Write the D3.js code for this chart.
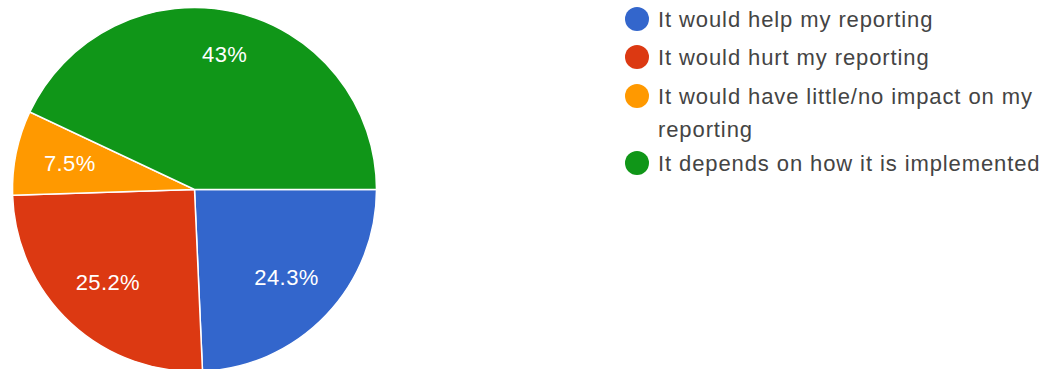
<!DOCTYPE html>
<html>
<head>
<meta charset="utf-8">
<script src="https://cdn.jsdelivr.net/npm/d3@7"></script>
<style>
  html, body { margin: 0; padding: 0; background: #fff; }
  svg { display: block; font-family: "Liberation Sans", Arial, sans-serif; }
</style>
</head>
<body>
<svg id="chart" width="1051" height="369"></svg>
<script>
// Survey answers and their shares (percent)
const categories = [
  "It would help my reporting",
  "It would hurt my reporting",
  "It would have little/no impact on my reporting",
  "It depends on how it is implemented"
];
const shares = [24.3, 25.2, 7.5, 43];
const sliceLabels = ["24.3%", "25.2%", "7.5%", "43%"];
const colors = ["#3366cc", "#dc3912", "#ff9900", "#109618"];

const svg = d3.select("#chart");
const cx = 194.5, cy = 189.5, radius = 182;

const data = categories.map((c, i) => ({ name: c, value: shares[i], label: sliceLabels[i], color: colors[i] }));

// Slices run clockwise starting at 3 o'clock
const pie = d3.pie()
  .sort(null)
  .value(d => d.value)
  .startAngle(Math.PI / 2)
  .endAngle(Math.PI / 2 + 2 * Math.PI);

const arc = d3.arc().innerRadius(0).outerRadius(radius);
// wide slices carry their label a little further out
const labelRadius = d => (d.endAngle - d.startAngle) > 0.8 * Math.PI ? radius * 0.76 : radius * 0.7;
const labelPos = d => {
  const r = labelRadius(d);
  return d3.arc().innerRadius(r).outerRadius(r).centroid(d);
};

const g = svg.append("g").attr("transform", `translate(${cx},${cy})`);
const arcs = pie(data);

g.selectAll("path.slice")
  .data(arcs)
  .join("path")
  .attr("class", "slice")
  .attr("d", arc)
  .attr("fill", d => d.data.color)
  .attr("stroke", "#fff")
  .attr("stroke-width", 1.5);

g.selectAll("text.pct")
  .data(arcs)
  .join("text")
  .attr("class", "pct")
  .attr("x", d => labelPos(d)[0])
  .attr("y", d => labelPos(d)[1])
  .attr("text-anchor", "middle")
  .attr("dominant-baseline", "central")
  .attr("fill", "#fff")
  .attr("font-size", 22)
  .attr("letter-spacing", 0.4)
  .text(d => d.data.label);

// Legend with wrapped entries
const legend = svg.append("g").attr("transform", "translate(637,0)");
const legendRows = [
  { i: 0, lines: ["It would help my reporting"], y: 19 },
  { i: 1, lines: ["It would hurt my reporting"], y: 57 },
  { i: 2, lines: ["It would have little/no impact on my", "reporting"], y: 96 },
  { i: 3, lines: ["It depends on how it is implemented"], y: 163 }
];
const items = legend.selectAll("g.item")
  .data(legendRows)
  .join("g")
  .attr("class", "item")
  .attr("transform", d => `translate(0,${d.y})`);

items.append("circle")
  .attr("r", 12)
  .attr("fill", d => colors[d.i]);

items.each(function(d) {
  const t = d3.select(this).append("text")
    .attr("x", 21)
    .attr("y", 0)
    .attr("fill", "#444")
    .attr("font-size", 22)
    .attr("letter-spacing", 0.9)
    .attr("dominant-baseline", "central");
  d.lines.forEach((ln, k) => {
    t.append("tspan").attr("x", 21).attr("dy", k === 0 ? 0 : 33).text(ln);
  });
});
</script>
</body>
</html>
